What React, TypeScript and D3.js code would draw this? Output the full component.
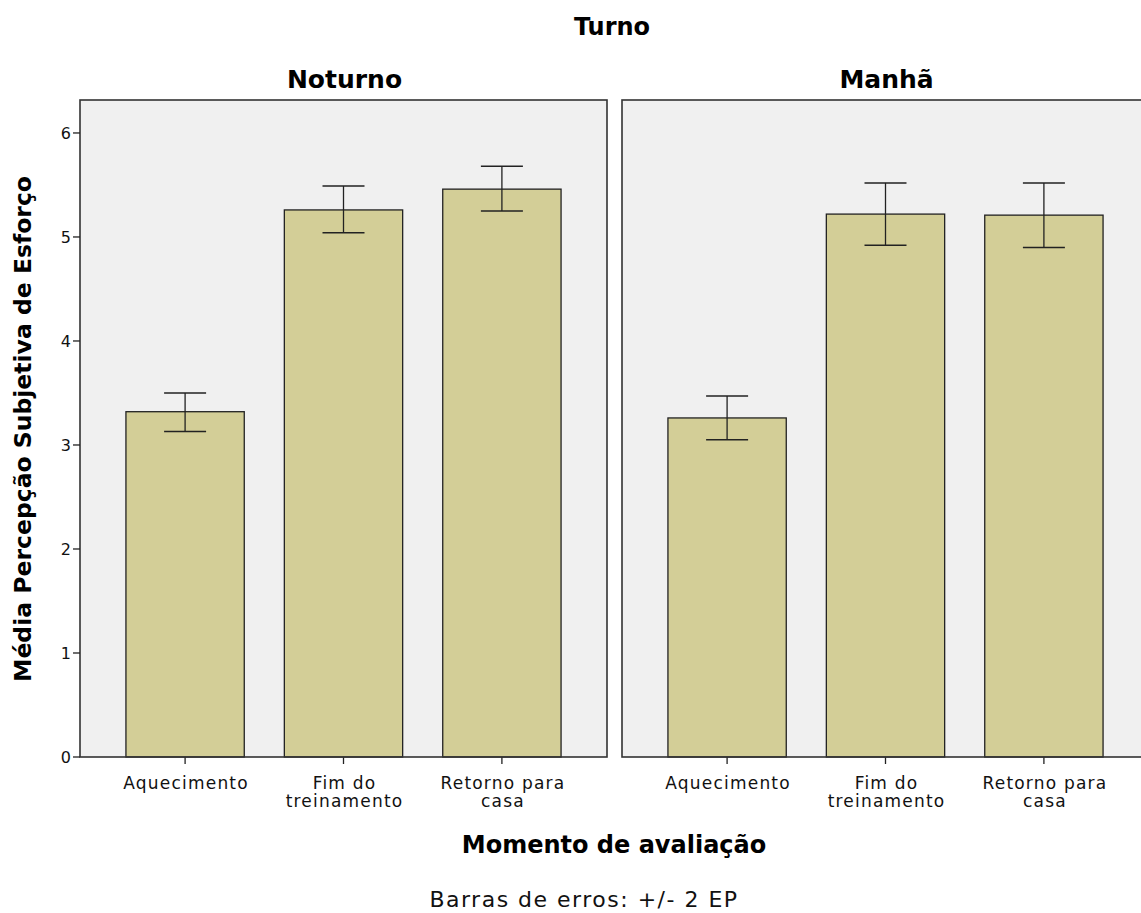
import React from "react";
import * as d3 from "d3";

const categories = ["Aquecimento", "Fim do treinamento", "Retorno para casa"];
const categoryLines = [["Aquecimento"], ["Fim do", "treinamento"], ["Retorno para", "casa"]];
const panels = ["Noturno", "Manhã"];
const meansNoturno = [3.32, 5.26, 5.46];
const lowNoturno = [3.13, 5.04, 5.25];
const highNoturno = [3.50, 5.49, 5.68];
const meansManha = [3.26, 5.22, 5.21];
const lowManha = [3.05, 4.92, 4.90];
const highManha = [3.47, 5.52, 5.52];
const yTicks = [0, 1, 2, 3, 4, 5, 6];

const W = 1141;
const H = 913;
const panelW = 527;
const panelLefts = [80, 622];
const top = 100;
const bottom = 757;

export default function App() {
  const y = d3.scaleLinear().domain([0, 6.317]).range([bottom, top]);
  const data = [
    { name: panels[0], means: meansNoturno, lo: lowNoturno, hi: highNoturno },
    { name: panels[1], means: meansManha, lo: lowManha, hi: highManha },
  ];
  const font = "'DejaVu Sans', sans-serif";
  return (
    <svg width={W} height={H} style={{ position: "absolute", left: 0, top: 0, background: "#fff" }}>
      <text x={612} y={35} textAnchor="middle" fontFamily={font} fontWeight="bold" fontSize={24} fill="#000">Turno</text>
      {data.map((p, pi) => {
        const x0 = panelLefts[pi];
        const x = d3.scaleBand().domain(categories).range([x0, x0 + panelW]).paddingInner(0.253).paddingOuter(0.29);
        const bw = x.bandwidth();
        return (
          <g key={p.name}>
            <text x={x0 + panelW / 2 + 1} y={88} textAnchor="middle" fontFamily={font} fontWeight="bold" fontSize={25} fill="#000">{p.name}</text>
            <rect x={x0} y={top} width={panelW} height={bottom - top} fill="#f0f0f0" stroke="none" />
            {categories.map((c, i) => {
              const bx = x(c)!;
              const cx = bx + bw / 2;
              return (
                <g key={c}>
                  <rect x={bx} y={y(p.means[i])} width={bw} height={bottom - y(p.means[i])} fill="#d3ce97" stroke="#222" strokeWidth={1.3} />
                  <line x1={cx} x2={cx} y1={y(p.hi[i])} y2={y(p.lo[i])} stroke="#222" strokeWidth={1.3} />
                  <line x1={cx - 21} x2={cx + 21} y1={y(p.hi[i])} y2={y(p.hi[i])} stroke="#222" strokeWidth={1.5} />
                  <line x1={cx - 21} x2={cx + 21} y1={y(p.lo[i])} y2={y(p.lo[i])} stroke="#222" strokeWidth={1.5} />
                  <line x1={cx} x2={cx} y1={bottom} y2={bottom + 7} stroke="#222" strokeWidth={1.3} />
                  {categoryLines[i].map((ln, li) => (
                    <text key={li} x={cx + 1} y={789 + li * 18} textAnchor="middle" fontFamily={font} fontSize={17} letterSpacing={1.2} fill="#111">{ln}</text>
                  ))}
                </g>
              );
            })}
            <rect x={x0} y={top} width={panelW} height={bottom - top} fill="none" stroke="#333" strokeWidth={1.6} />
          </g>
        );
      })}
      {yTicks.map((t) => (
        <g key={t}>
          <line x1={73} x2={80} y1={y(t)} y2={y(t)} stroke="#222" strokeWidth={1.3} />
          <text x={71} y={y(t) + 6} textAnchor="end" fontFamily={font} fontSize={16} fill="#111">{t}</text>
        </g>
      ))}
      <text transform={`translate(31,429) rotate(-90)`} textAnchor="middle" fontFamily={font} fontWeight="bold" fontSize={23.5} fill="#000">Média Percepção Subjetiva de Esforço</text>
      <text x={614} y={853} textAnchor="middle" fontFamily={font} fontWeight="bold" fontSize={24} fill="#000">Momento de avaliação</text>
      <text x={584} y={907} textAnchor="middle" fontFamily={font} fontSize={22} letterSpacing={1.5} fill="#111">Barras de erros: +/- 2 EP</text>
    </svg>
  );
}
